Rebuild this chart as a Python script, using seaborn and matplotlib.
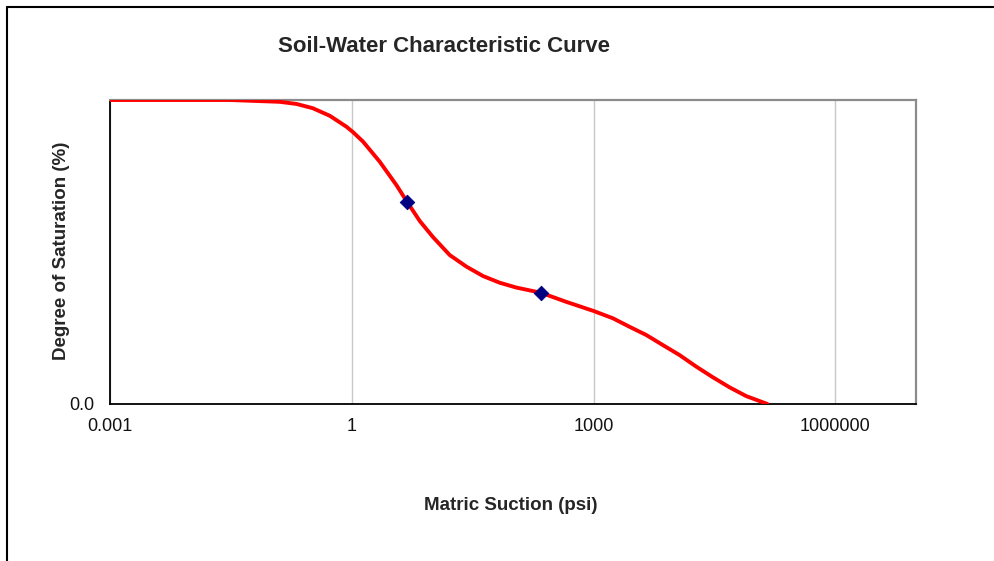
"""
Soil-water characteristic curve, redrawn with seaborn.
"""

import pandas as pd
import matplotlib
matplotlib.use("Agg")
import matplotlib.pyplot as plt
from matplotlib.lines import Line2D
import seaborn as sns

sns.set_style("white")
plt.rcParams["font.family"] = ["Liberation Sans", "DejaVu Sans"]

# === DATA ===
suction = [0.001, 0.0307, 0.128, 0.206, 0.328, 0.534, 0.859, 1.038, 1.38,
           2.22, 3.58, 4.85, 6.97, 10.18, 16.4, 26.4, 42.4, 68.3, 110, 222,
           458, 1000, 1734, 2793, 4498, 7220, 11650, 18760, 30130, 48530,
           78200, 143600]
saturation = [100.0, 100.0, 99.4, 98.7, 97.3, 94.8, 91.2, 89.4, 86.3,
              79.7, 72.0, 66.5, 60.2, 54.9, 49.0, 45.2, 42.1, 39.9, 38.3, 36.6,
              33.6, 30.6, 28.2, 25.4, 22.7, 19.4, 16.1, 12.3, 8.8, 5.5,
              2.6, 0.0]

measured_suction = [4.85, 222]
measured_saturation = [66.5, 36.6]

x_ticks = [0.001, 1, 1000, 1000000]
x_tick_labels = ["0.001", "1", "1000", "1000000"]

curve = pd.DataFrame({"suction": suction, "saturation": saturation})
points = pd.DataFrame({"suction": measured_suction, "saturation": measured_saturation})

# === FIGURE ===
fig = plt.figure(figsize=(9.94, 5.61), dpi=100)
ax = fig.add_axes([110 / 994, 1 - 404 / 561, 806 / 994, 304 / 561])

sns.lineplot(data=curve, x="suction", y="saturation", ax=ax, color="red",
             linewidth=2.8, sort=False, zorder=3)
sns.scatterplot(data=points, x="suction", y="saturation", ax=ax, marker="D",
                color="#000080", s=55, edgecolor="#000080", zorder=4)

ax.set_xscale("log")
ax.set_xlim(1e-3, 1e7)
ax.set_ylim(0, 100)
ax.set_xticks(x_ticks)
ax.set_xticklabels(x_tick_labels)
ax.minorticks_off()
ax.set_yticks([0])
ax.set_yticklabels(["0.0"])
ax.tick_params(axis="x", labelsize=13, direction="out", length=4.3,
               width=1, color="black", labelcolor="#111111", pad=5.5)
ax.tick_params(axis="y", labelsize=13, direction="out", length=4,
               width=1, color="black", labelcolor="#111111", pad=7.5)

ax.grid(axis="x", color="#c8c8c8", linewidth=1)
ax.set_axisbelow(True)
for side in ["left", "bottom"]:
    ax.spines[side].set_color("black")
    ax.spines[side].set_linewidth(1.3)
for side in ["top", "right"]:
    ax.spines[side].set_color("#8c8c8c")
    ax.spines[side].set_linewidth(1.6)

ax.set_xlabel("")
ax.set_ylabel("")
fig.text(444 / 994, 1 - 47 / 561, "Soil-Water Characteristic Curve",
         ha="center", va="center", fontsize=16, fontweight="bold")
fig.text(511 / 994, 1 - 506 / 561, "Matric Suction (psi)",
         ha="center", va="center", fontsize=13.5, fontweight="bold")
fig.text(61 / 994, 1 - 251 / 561, "Degree of Saturation (%)",
         ha="center", va="center", rotation=90, fontsize=13.5, fontweight="bold")

# outer frame (left and top edges only)
fig.add_artist(Line2D([7 / 994, 7 / 994], [0, 1 - 7 / 561], color="black", linewidth=1.5))
fig.add_artist(Line2D([7 / 994, 1], [1 - 7 / 561, 1 - 7 / 561], color="black", linewidth=1.5))

fig.savefig("out.png", dpi=100)
